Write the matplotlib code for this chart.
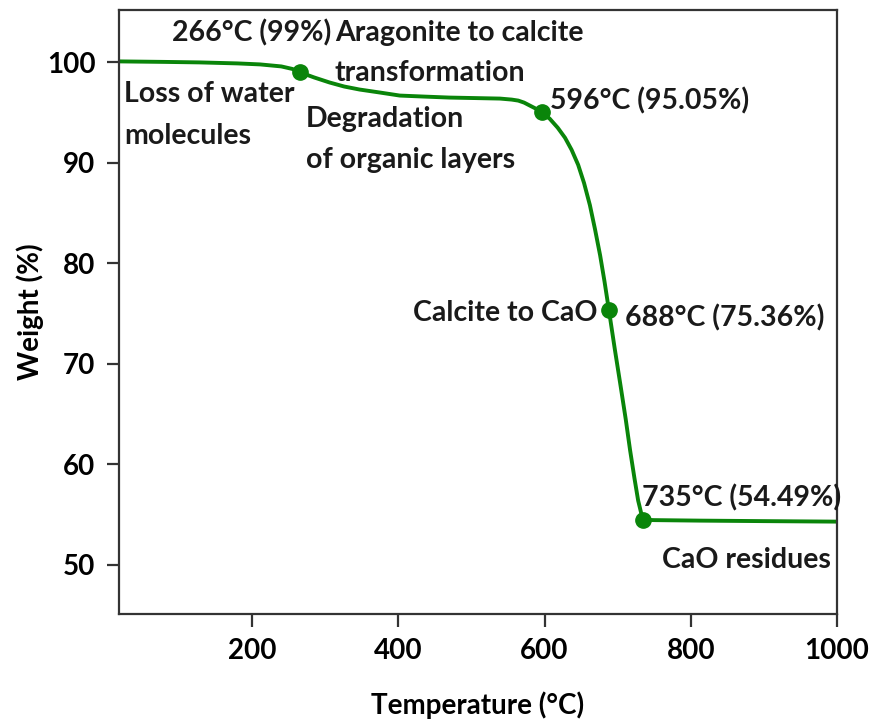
import matplotlib.pyplot as plt

# TGA trace of the shell powder
temperature = [18, 80, 128, 180, 211, 240, 255, 266, 285, 306, 326, 347, 375,
               402, 435, 470, 505, 539, 555, 564, 572, 580, 588, 596, 607,
               618, 628, 637, 646, 654, 662, 669, 676, 682, 688, 696, 704,
               711, 717, 723, 728, 732, 735, 750, 812, 900, 1000]
weight = [100.1, 100.05, 100.0, 99.9, 99.8, 99.6, 99.35, 99.0, 98.5, 98.0,
          97.6, 97.3, 97.0, 96.7, 96.6, 96.5, 96.45, 96.4, 96.3, 96.2, 96.0,
          95.7, 95.4, 95.05, 94.4, 93.5, 92.5, 91.3, 89.8, 88.0, 85.8, 83.4,
          80.8, 78.2, 75.36, 71.5, 67.8, 64.5, 61.4, 58.6, 56.4, 55.2, 54.49,
          54.45, 54.4, 54.35, 54.3]

# marked decomposition points
point_temp = [266, 596, 688, 735]
point_weight = [99.0, 95.05, 75.36, 54.49]
point_labels = ['266°C (99%)', '596°C (95.05%)', '688°C (75.36%)',
                '735°C (54.49%)']

plt.rcParams['font.family'] = ['Lato', 'DejaVu Sans']

fig = plt.figure(figsize=(8.75, 7.25), dpi=100)
ax = fig.add_axes([0.136, 0.153, 0.8206, 0.833])

green = '#0a850a'
ax.plot(temperature, weight, color=green, lw=2.8, zorder=2)
ax.plot(point_temp, point_weight, 'o', color=green, ms=11, zorder=3)

txt = dict(fontsize=20.5, fontweight='bold', color='#1a1a1a')
ax.text(90, 102.9, point_labels[0], va='center', ha='left', **txt)
ax.text(313, 102.9, 'Aragonite to calcite', va='center', ha='left', **txt)
ax.text(313, 98.9, 'transformation', va='center', ha='left', **txt)
ax.text(25, 96.9, 'Loss of water', va='center', ha='left', **txt)
ax.text(25, 92.7, 'molecules', va='center', ha='left', **txt)
ax.text(274, 94.4, 'Degradation', va='center', ha='left', **txt)
ax.text(274, 90.3, 'of organic layers', va='center', ha='left', **txt)
ax.text(607, 96.2, point_labels[1], va='center', ha='left', **txt)
ax.text(673, 75.05, 'Calcite to CaO', va='center', ha='right', **txt)
ax.text(710, 74.55, point_labels[2], va='center', ha='left', **txt)
ax.text(733, 56.7, point_labels[3], va='center', ha='left', **txt)
ax.text(760, 50.5, 'CaO residues', va='center', ha='left', **txt)

ax.set_xlim(18, 1000)
ax.set_ylim(45.1, 105.2)
ax.set_xticks([200, 400, 600, 800, 1000])
ax.set_yticks([50, 60, 70, 80, 90, 100])

for s in ax.spines.values():
    s.set_linewidth(1.6)
    s.set_color('#333333')
ax.tick_params(direction='out', length=9, width=1.6, color='#333333',
               labelsize=20, pad=8)
for lab in ax.get_xticklabels() + ax.get_yticklabels():
    lab.set_fontweight('bold')

ax.set_xlabel('Temperature (°C)', fontsize=20, fontweight='bold', labelpad=20)
ax.set_ylabel('Weight (%)', fontsize=20, fontweight='bold', labelpad=2)

fig.savefig('out.png', dpi=100)
